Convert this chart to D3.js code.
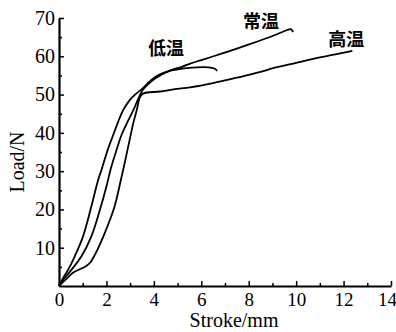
<!DOCTYPE html>
<html>
<head>
<meta charset="utf-8">
<script src="https://cdn.jsdelivr.net/npm/d3@7"></script>
<style>
  body { margin: 0; background: #fff; }
  svg text { font-family: "Liberation Serif", "DejaVu Serif", serif; fill: #000; }
  .cn { font-family: "Noto Sans CJK SC", sans-serif; font-weight: bold; }
</style>
</head>
<body>
<svg id="chart" width="396" height="332"></svg>
<script>
// Load-stroke curves (stroke mm, load N)
var lowStroke  = [0, 0.15, 0.38, 0.66, 1.01, 1.36, 1.65, 1.8, 2.05, 2.29, 2.5, 2.71, 2.95, 3.14, 3.56, 3.91, 4.3, 4.75, 5.2, 5.8, 6.3, 6.55, 6.67];
var lowLoad    = [0, 1.8, 4.2, 7.7, 12.9, 20.7, 27.7, 30.5, 35.5, 39.5, 43, 46, 48.3, 49.6, 51.8, 53.9, 55.4, 56.3, 56.8, 57.1, 57.1, 56.8, 56.2];

var roomStroke = [0, 0.2, 0.52, 0.94, 1.36, 1.72, 2.0, 2.2, 2.4, 2.64, 2.9, 3.14, 3.35, 3.55, 3.9, 4.3, 4.7, 5.2, 5.53, 6.0, 6.92, 7.5, 8.34, 9.0, 9.6, 9.78, 9.87];
var roomLoad   = [0, 1.8, 4.2, 7.7, 12.9, 19.8, 26, 31, 35, 39.5, 43, 46, 49, 51.4, 53.5, 55.1, 56.3, 57.3, 58.1, 59.0, 60.8, 62.0, 63.8, 65.3, 66.8, 67.1, 66.3];

var highStroke = [0, 0.3, 0.6, 0.85, 1.1, 1.3, 1.5, 1.92, 2.34, 2.62, 2.8, 2.99, 3.15, 3.28, 3.42, 3.56, 4.26, 4.89, 5.53, 6.5, 7.5, 8.5, 9.03, 10, 11, 11.8, 12.37];
var highLoad   = [0, 1.8, 3.5, 4.3, 5.0, 6.0, 8.0, 13.7, 20.7, 28, 33, 38.5, 43, 46, 49.4, 50.3, 50.8, 51.4, 51.9, 53.0, 54.4, 55.9, 56.9, 58.3, 59.7, 60.7, 61.4];

var seriesNames = ["低温", "常温", "高温"];
var xTicks = [0, 2, 4, 6, 8, 10, 12, 14];
var yTicks = [10, 20, 30, 40, 50, 60, 70];

var svg = d3.select("#chart");

var x = d3.scaleLinear().domain([0, 14]).range([59, 391]);
var y = d3.scaleLinear().domain([0, 70]).range([286, 18]);

//Minor ticks first (no labels)
svg.append("g")
    .attr("transform", "translate(0,286)")
    .call(d3.axisBottom(x).tickValues(d3.range(1, 14, 2)).tickSize(-3).tickSizeOuter(0).tickFormat(""))
    .call(function (g) { g.select(".domain").remove(); });
svg.append("g")
    .attr("transform", "translate(59,0)")
    .call(d3.axisLeft(y).tickValues(d3.range(5, 70, 10)).tickSize(-3).tickSizeOuter(0).tickFormat(""))
    .call(function (g) { g.select(".domain").remove(); });

//Main axes, ticks pointing inwards
var xAxis = svg.append("g")
    .attr("transform", "translate(0,286)")
    .call(d3.axisBottom(x).tickValues(xTicks).tickSize(-5).tickSizeOuter(0).tickPadding(7));
var yAxis = svg.append("g")
    .attr("transform", "translate(59,0)")
    .call(d3.axisLeft(y).tickValues(yTicks).tickSize(-5).tickSizeOuter(0).tickPadding(4));

svg.selectAll(".tick line").attr("stroke", "#000").attr("stroke-width", 1.5);
yAxis.selectAll(".tick text").attr("font-size", 20).attr("font-family", "Liberation Serif");
xAxis.selectAll(".tick text").attr("font-size", 19).attr("font-family", "Liberation Serif");
//last label sits against the right edge
xAxis.selectAll(".tick text").filter(function (d) { return d === 14; }).attr("dx", -4);
xAxis.select(".domain").attr("stroke", "#000").attr("stroke-width", 1.8);
yAxis.select(".domain").attr("stroke", "#000").attr("stroke-width", 2.2);

//Axis titles
svg.append("text")
    .attr("transform", "translate(24,162) rotate(-90)")
    .attr("text-anchor", "middle")
    .attr("font-size", 20)
    .text("Load/N");
svg.append("text")
    .attr("x", 234)
    .attr("y", 327)
    .attr("text-anchor", "middle")
    .attr("font-size", 20)
    .text("Stroke/mm");

//Curves
var line = d3.line()
    .x(function (d) { return x(d[0]); })
    .y(function (d) { return y(d[1]); })
    .curve(d3.curveCatmullRom.alpha(0.5));

var curves = [
  d3.zip(lowStroke, lowLoad),
  d3.zip(roomStroke, roomLoad),
  d3.zip(highStroke, highLoad)
];

svg.selectAll("path.curve")
  .data(curves)
  .enter().append("path")
    .attr("class", "curve")
    .attr("d", line)
    .attr("fill", "none")
    .attr("stroke", "#000")
    .attr("stroke-width", 1.8);

//Curve labels
var labelPos = [[3.75, 60.4], [7.76, 67.5], [11.35, 62.8]];
svg.selectAll("text.cn")
  .data(seriesNames)
  .enter().append("text")
    .attr("class", "cn")
    .attr("x", function (d, i) { return x(labelPos[i][0]); })
    .attr("y", function (d, i) { return y(labelPos[i][1]); })
    .attr("font-size", 18)
    .text(function (d) { return d; });
</script>
</body>
</html>
